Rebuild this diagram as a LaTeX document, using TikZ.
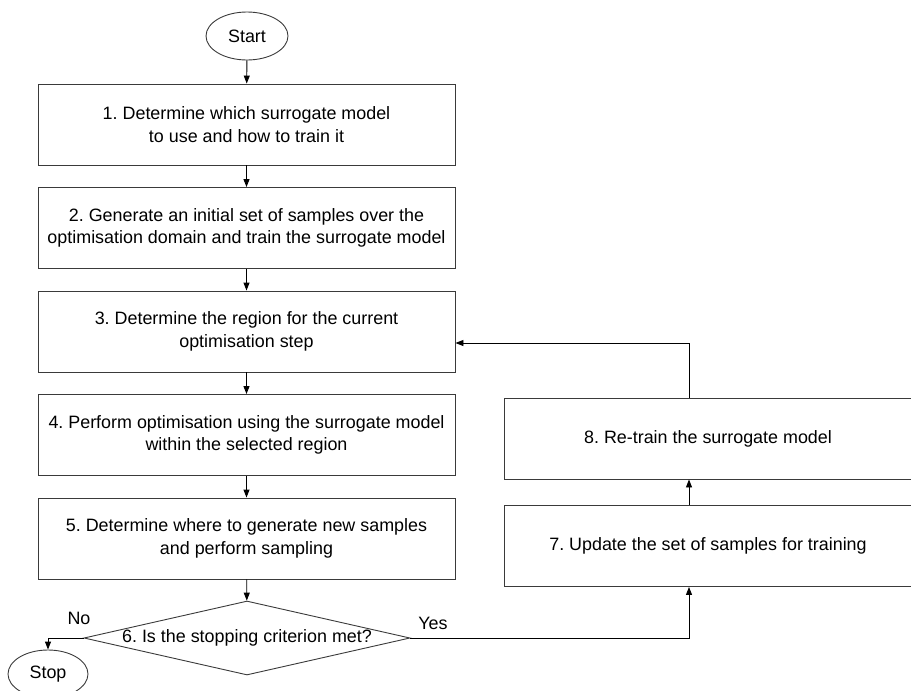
\documentclass[tikz,border=0pt]{standalone}
\usepackage{fontspec}
\setmainfont{Liberation Sans}
\usepackage{tikz}
\usetikzlibrary{arrows.meta, positioning, calc, shapes.geometric}
\definecolor{edgegray}{HTML}{3A3A3A}
\frenchspacing

\tikzset{
    stepbox/.style={draw=edgegray, line width=0.9pt, rectangle, align=center,
        minimum width=417pt, minimum height=81pt, inner sep=0pt},
    sidebox/.style={stepbox, minimum width=408pt},
    terminal/.style={draw=edgegray, line width=0.9pt, ellipse, inner sep=0pt,
        minimum width=82pt, minimum height=48pt},
    decision/.style={draw=edgegray, line width=0.9pt, diamond, shape aspect=4.4,
        inner sep=0pt, minimum width=326pt, minimum height=74pt},
    flow/.style={-{Triangle[length=8pt,width=6pt]}, line width=0.9pt, black},
    every node/.style={font=\fontsize{17.9}{22.5}\selectfont},
}

\begin{document}
\begin{tikzpicture}[x=1pt, y=-1pt]
            \useasboundingbox (0,0) rectangle (911,691);

            \node[terminal] (start) at (247, 36) {Start};
            \node[stepbox] (s1) at (246.5, 124.5) {1. Determine which surrogate model\\to use and how to train it};
            \node[stepbox] (s2) at (246.5, 228) {2. Generate an initial set of samples over the\\optimisation domain and train the surrogate model};
            \node[stepbox] (s3) at (246.5, 331.5) {3. Determine the region for the current\\optimisation step};
            \node[stepbox] (s4) at (246.5, 435) {4. Perform optimisation using the surrogate model\\within the selected region};
            \node[stepbox] (s5) at (246.5, 538.5) {5. Determine where to generate new samples\\and perform sampling};
            \node[decision] (stopcheck) at (247, 638) {6. Is the stopping criterion met?};
            \node[terminal, minimum width=80pt] (stop) at (48, 674) {Stop};
            \node[sidebox] (s7) at (708, 546) {7. Update the set of samples for training};
            \node[sidebox] (s8) at (708, 438.5) {8. Re-train the surrogate model};

            \node (nolabel) at (79, 618) {No};
            \node (yeslabel) at (433, 623) {Yes};

            % main column
            \draw[flow] (start) -- (s1);
            \draw[flow] (s1) -- (s2);
            \draw[flow] (s2) -- (s3);
            \draw[flow] (s3) -- (s4);
            \draw[flow] (s4) -- (s5);
            \draw[flow] (s5) -- (stopcheck);
            \draw[flow] (stopcheck.west) -| (stop.north);

            % loop back
            \draw[flow] (stopcheck.east) -| ([xshift=-19pt]s7.south);
            \draw[flow] ([xshift=-19pt]s7.north) -- ([xshift=-19pt]s8.south);
            \draw[flow] ([xshift=-19pt]s8.north) |- ([yshift=-11.5pt]s3.east);
        \end{tikzpicture}
\end{document}
